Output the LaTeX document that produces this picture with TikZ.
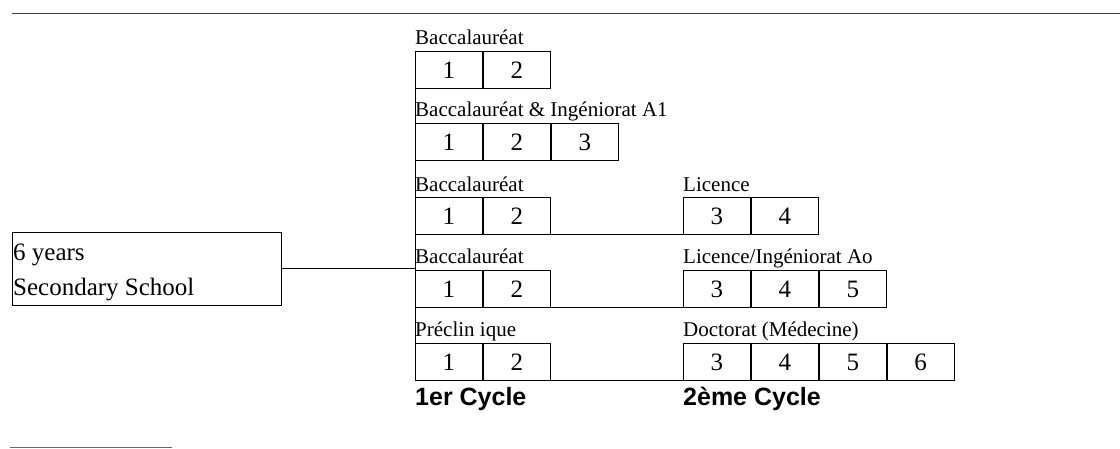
\documentclass[tikz,border=0pt]{standalone}
\usepackage{fontspec}
\setmainfont{Liberation Serif}
\newfontfamily\arialfont{Liberation Sans}
\begin{document}
\begin{tikzpicture}[x=1pt,y=-1pt,
  cell/.style={draw=black,line width=0.9pt,minimum width=67pt,minimum height=37pt,inner sep=0pt,anchor=north west,font=\fontsize{25}{25}\selectfont},
  lbl/.style={anchor=base west,inner sep=0pt,font=\fontsize{21}{21}\selectfont},
  cyc/.style={anchor=base west,inner sep=0pt,font=\arialfont\bfseries\fontsize{25}{25}\selectfont},
  conn/.style={draw=black,line width=0.9pt},
  rule/.style={draw=black!75,line width=1.2pt}]
\useasboundingbox (0,0) rectangle (1120,449);
% rules
\coordinate (t1) at (12,13.5);
\coordinate (t2) at (1120,13.5);
\coordinate (b1) at (10,447.5);
\coordinate (b2) at (172,447.5);
\draw[rule] (t1) -- (t2);
\draw[draw=black!60,line width=1.2pt] (b1) -- (b2);
% left box
\node[draw=black,line width=0.9pt,minimum width=269pt,minimum height=73pt,anchor=north west,inner sep=0pt] (sec) at (12,232) {};
\node[anchor=base west,inner sep=0pt,font=\fontsize{25}{25}\selectfont] (sy) at (13,261) {6 years};
\node[anchor=base west,inner sep=0pt,font=\fontsize{25}{25}\selectfont] (ss) at (13,296) {Secondary School};
% row 1
\node[cell] (a1) at (415,51) {1};
\node[cell] (a2) at (a1.north east) {2};
\node[lbl] (la) at (415,45) {Baccalauréat};
% row 2
\node[cell] (b1c) at (415,123) {1};
\node[cell] (b2c) at (b1c.north east) {2};
\node[cell] (b3c) at (b2c.north east) {3};
\node[lbl] (lb) at (415,117) {Baccalauréat \& Ingéniorat A1};
% row 3
\node[cell] (c1) at (415,197) {1};
\node[cell] (c2) at (c1.north east) {2};
\node[lbl] (lc) at (415,192) {Baccalauréat};
\node[cell] (c3) at (683,197) {3};
\node[cell] (c4) at (c3.north east) {4};
\node[lbl] (lc2) at (683,192) {Licence};
% row 4
\node[cell] (d1) at (415,270) {1};
\node[cell] (d2) at (d1.north east) {2};
\node[lbl] (ld) at (415,264) {Baccalauréat};
\node[cell] (d3) at (683,270) {3};
\node[cell] (d4) at (d3.north east) {4};
\node[cell] (d5) at (d4.north east) {5};
\node[lbl] (ld2) at (683,264) {Licence/Ingéniorat Ao};
% row 5
\node[cell] (e1) at (415,343) {1};
\node[cell] (e2) at (e1.north east) {2};
\node[lbl] (le) at (415,337) {Préclin ique};
\node[cell] (e3) at (683,343) {3};
\node[cell] (e4) at (e3.north east) {4};
\node[cell] (e5) at (e4.north east) {5};
\node[cell] (e6) at (e5.north east) {6};
\node[lbl] (le2) at (683,337) {Doctorat (Médecine)};
% cycle labels
\node[cyc] (cy1) at (415,405) {1er Cycle};
\node[cyc] (cy2) at (683,405) {2ème Cycle};
% connectors
\draw[conn] (a1.north west) -- (e1.south west);
\draw[conn] (sec.east) -- (sec.east -| a1.west);
\draw[conn] (c2.south east) -- (c3.south west);
\draw[conn] (d2.south east) -- (d3.south west);
\draw[conn] (e2.south east) -- (e3.south west);
\end{tikzpicture}
\end{document}
